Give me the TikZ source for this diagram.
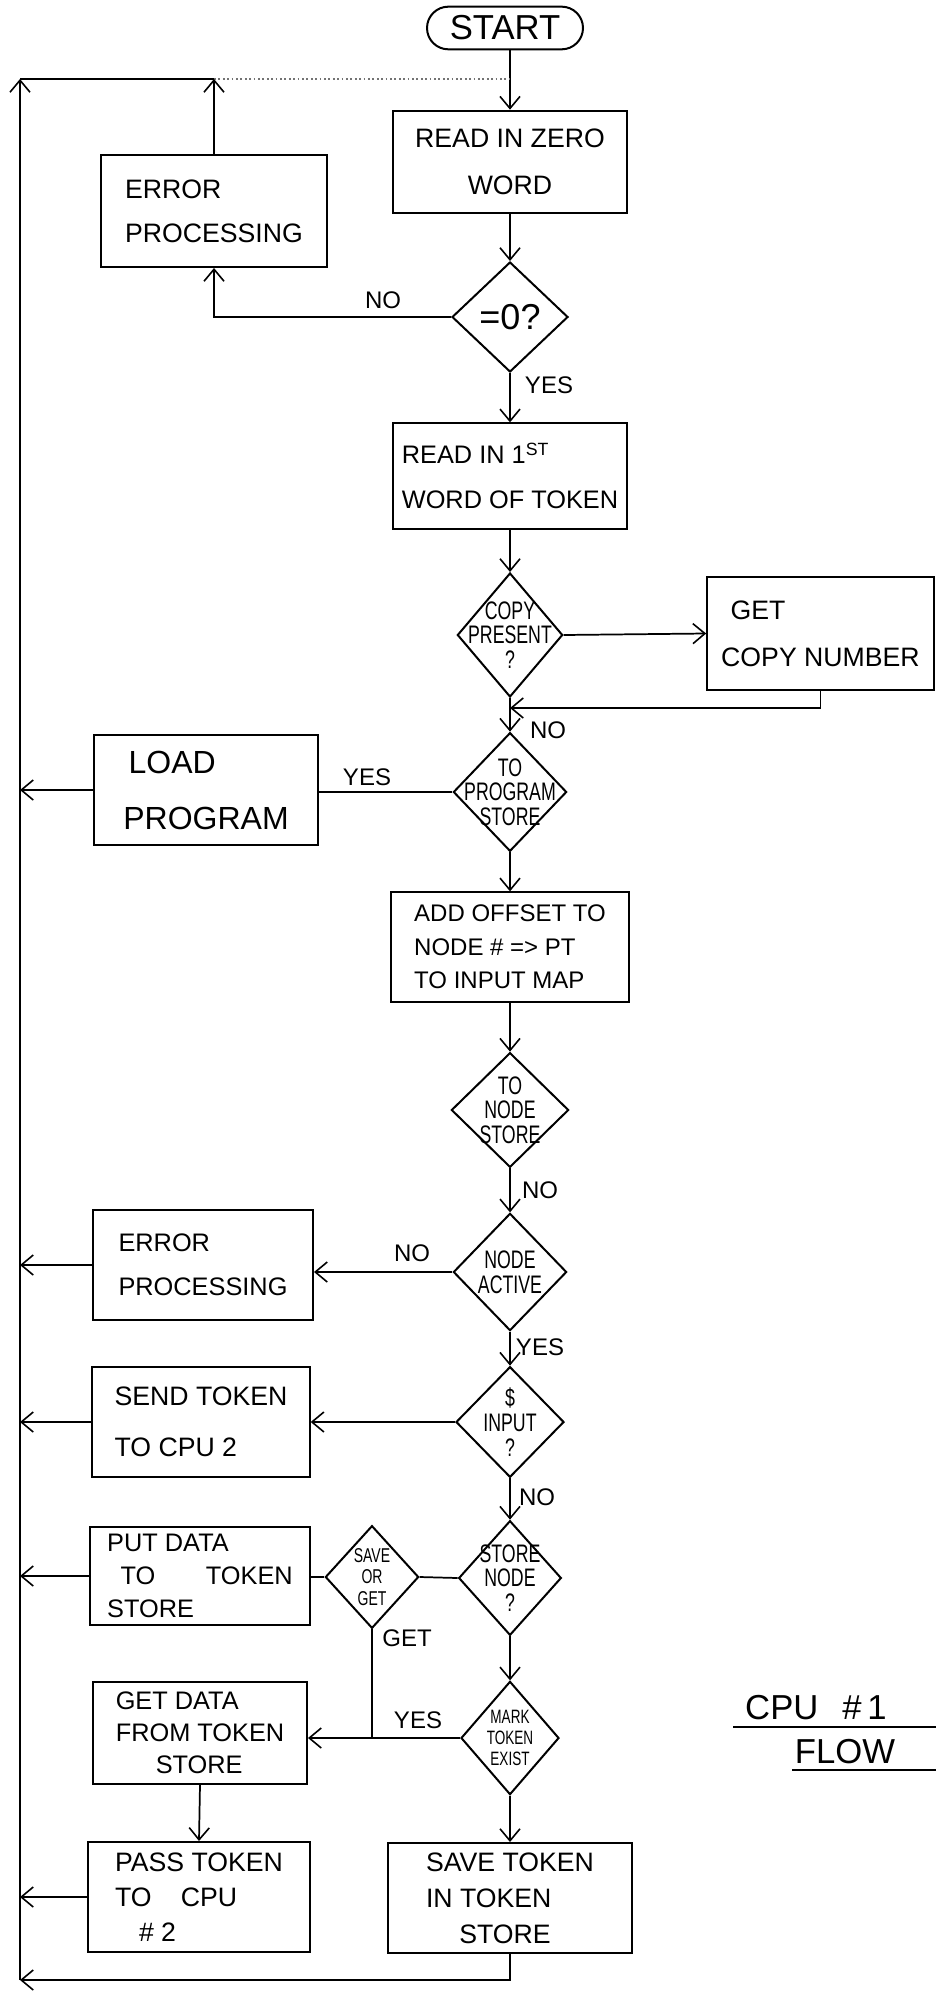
\documentclass[tikz,border=0pt]{standalone}
\usepackage{fontspec}
\setmainfont{Liberation Sans}
\newfontfamily\handn[FakeStretch=0.7]{Liberation Sans}
\usetikzlibrary{shapes.geometric,arrows.meta}
\tikzset{
  ln/.style={line width=1.3pt},
  arr/.style={line width=1.3pt,-{Straight Barb[length=9pt,width=15pt,line width=1.2pt]}},
  pbox/.style={draw,line width=1.5pt,inner sep=0pt},
  dia/.style={draw,diamond,line width=1.5pt,inner sep=-30pt,align=center,font=\handn\fontsize{19}{18.5}\selectfont},
  lbl/.style={font=\fontsize{18}{20}\selectfont,inner sep=0pt},
}
\begin{document}
\begin{tikzpicture}[x=0.75pt,y=-0.75pt]
\useasboundingbox (0,0) rectangle (936,1997);
\coordinate (tl) at (20,79);
\coordinate (bl) at (20,1980);

% main column
\node[pbox,rounded corners=16pt,minimum width=117pt,minimum height=32pt,font=\fontsize{26}{28}\selectfont] (start) at (505,28) {START};
\node[pbox,minimum width=175.5pt,minimum height=77pt,align=center,font=\fontsize{20}{35}\selectfont] (read0) at (510,162) {READ IN ZERO\\WORD};
\node[dia,minimum width=87pt,minimum height=82.5pt,font=\fontsize{27}{28}\selectfont] (d0) at (510,317) {=0?};
\node[pbox,minimum width=169pt,minimum height=84pt,align=left,font=\fontsize{20}{33}\selectfont] (err1) at (214,211) {ERROR\\PROCESSING};
\node[pbox,minimum width=176pt,minimum height=79pt,align=left,font=\fontsize{19}{34}\selectfont] (read1) at (510,476) {READ IN 1\textsuperscript{ST}\\WORD OF TOKEN};
\node[dia,minimum width=79pt,minimum height=93pt] (dcopy) at (510,635) {COPY\\PRESENT\\?};
\node[pbox,minimum width=170pt,minimum height=85pt,align=left,font=\fontsize{20}{35}\selectfont] (getcopy) at (820.5,633.5) {\hspace*{7pt}GET\\COPY NUMBER};
\node[dia,minimum width=85pt,minimum height=89pt] (dprog) at (510,792) {TO\\PROGRAM\\STORE};
\node[pbox,minimum width=168pt,minimum height=82pt,align=left,font=\fontsize{24}{42}\selectfont] (load) at (206,790) {\hspace*{4pt}LOAD\\PROGRAM};
\node[pbox,minimum width=178pt,minimum height=82pt,align=left,font=\fontsize{18}{25}\selectfont] (addoff) at (510,947) {ADD OFFSET TO\\NODE \# => PT\\TO INPUT MAP};
\node[dia,minimum width=88pt,minimum height=86pt] (dnode) at (510,1110) {TO\\NODE\\STORE};
\node[dia,minimum width=85pt,minimum height=88pt] (dact) at (510,1272) {NODE\\ACTIVE};
\node[pbox,minimum width=165pt,minimum height=82.5pt,align=left,font=\fontsize{19}{33}\selectfont] (err2) at (203,1265) {ERROR\\PROCESSING};
\node[dia,minimum width=81pt,minimum height=83pt] (dinput) at (510,1422) {\$\\INPUT\\?};
\node[pbox,minimum width=163pt,minimum height=82pt,align=left,font=\fontsize{20}{38}\selectfont] (send) at (201,1422) {SEND TOKEN\\TO CPU 2};
\node[dia,minimum width=77pt,minimum height=86pt] (dstore) at (510,1578) {STORE\\NODE\\?};
\node[dia,minimum width=70pt,minimum height=77pt,font=\handn\fontsize{15}{16}\selectfont] (dsave) at (372,1577) {SAVE\\OR\\GET};
\node[pbox,minimum width=165pt,minimum height=73.5pt,align=left,font=\fontsize{19}{25}\selectfont] (put) at (200,1576) {PUT DATA\\\hspace*{10pt}TO\hspace{38pt}TOKEN\\STORE};
\node[dia,minimum width=73.5pt,minimum height=85pt,font=\handn\fontsize{14.5}{16}\selectfont] (dmark) at (510,1738) {MARK\\TOKEN\\EXIST};
\node[pbox,minimum width=160.5pt,minimum height=76pt,align=left,font=\fontsize{19}{24}\selectfont] (getdata) at (200,1733) {GET DATA\\FROM TOKEN\\\hspace*{30pt}STORE};
\node[pbox,minimum width=166pt,minimum height=82.5pt,align=left,font=\fontsize{20}{26}\selectfont] (pass) at (199,1897) {PASS TOKEN\\TO\hspace{22pt}CPU\\\hspace*{18pt}\# 2};
\node[pbox,minimum width=183pt,minimum height=82.5pt,align=left,font=\fontsize{20}{27}\selectfont] (save) at (510,1898) {SAVE TOKEN\\IN TOKEN\\\hspace*{25pt}STORE};

% labels
\node[lbl] (lno1) at (383,300) {NO};
\node[lbl] (lyes1) at (549,385) {YES};
\node[lbl] (lno2) at (548,730) {NO};
\node[lbl] (lyes2) at (367,777) {YES};
\node[lbl] (lno3) at (540,1190) {NO};
\node[lbl] (lno4) at (412,1253) {NO};
\node[lbl] (lyes3) at (540,1347) {YES};
\node[lbl] (lno5) at (537,1497) {NO};
\node[lbl] (lget) at (407,1638) {GET};
\node[lbl] (lyes4) at (418,1720) {YES};

\node[font=\fontsize{26}{28}\selectfont,inner sep=0pt] (cpu) at (816,1708) {CPU\hspace{18pt}\#\,1};
\node[font=\fontsize{26}{28}\selectfont,inner sep=0pt] (flow) at (845,1752) {FLOW};
\draw[ln] (733,1727) -- (936,1727);
\draw[ln] (792,1770) -- (936,1770);

% connectors
\draw[arr] (read0.north |- start.south) -- (read0.north);
\draw[arr] (bl) -- (tl);
\draw[ln] (tl) -- (err1.north |- tl);
\draw[ln,dotted,black!55] (err1.north |- tl) -- (read0.north |- tl);
\draw[arr] (err1.north) -- (err1.north |- tl);
\draw[arr] (read0.south) -- (d0.north);
\draw[arr] (d0.west) -| (err1.south);
\draw[arr] (d0.south) -- (read1.north);
\draw[arr] (read1.south) -- (dcopy.north);
\draw[arr] (dcopy.east) -- (getcopy.west);
\coordinate (jc) at (510,708);
\draw[arr] (getcopy.south) |- (jc);
\draw[arr] (dcopy.south) -- (dprog.north);
\draw[ln] (dprog.west) -- (load.east |- dprog.west);
\draw[arr] (load.west) -- (load.west -| tl);
\draw[arr] (dprog.south) -- (addoff.north);
\draw[arr] (addoff.south) -- (dnode.north);
\draw[arr] (dnode.south) -- (dact.north);
\draw[arr] (dact.west) -- (err2.east |- dact.west);
\draw[arr] (err2.west) -- (err2.west -| tl);
\draw[arr] (dact.south) -- (dinput.north);
\draw[arr] (dinput.west) -- (send.east |- dinput.west);
\draw[arr] (send.west) -- (send.west -| tl);
\draw[arr] (dinput.south) -- (dstore.north);
\draw[ln] (dstore.west) -- (dsave.east);
\draw[ln] (dsave.west) -- (put.east |- dsave.west);
\draw[arr] (put.west) -- (put.west -| tl);
\draw[arr] (dstore.south) -- (dmark.north);
\draw[arr] (dmark.west) -- (getdata.east |- dmark.west);
\draw[ln] (dsave.south) -- (dsave.south |- dmark.west);
\draw[arr] (getdata.south) -- (pass.north);
\draw[arr] (pass.west) -- (pass.west -| tl);
\draw[arr] (dmark.south) -- (save.north);
\draw[arr] (save.south) |- (bl);
\end{tikzpicture}
\end{document}
